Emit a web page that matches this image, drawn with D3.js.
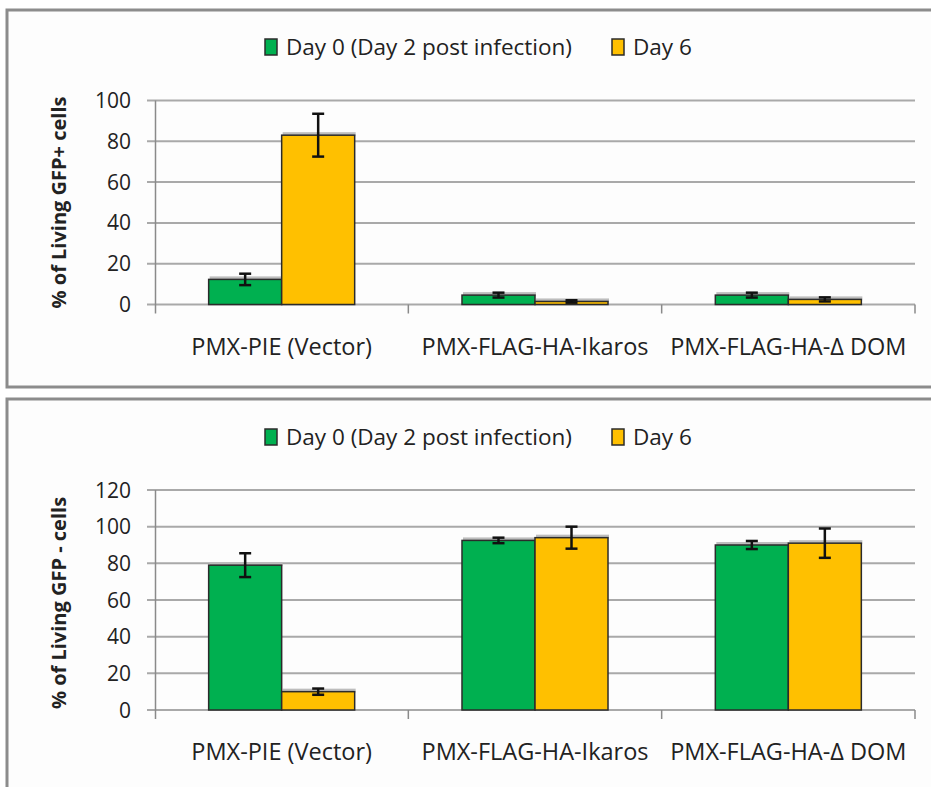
<!doctype html>
<html>
<head>
<meta charset="UTF-8">
<title>GFP cells</title>
<script src="https://d3js.org/d3.v7.min.js"></script>
<style>
  body { margin: 0; background: #fff; }
  text { font-family: "Open Sans", Lato, sans-serif; fill: #222; }
</style>
</head>
<body>
<svg id="chart" width="931" height="787"></svg>
<script>
// data
var categories = ["PMX-PIE (Vector)", "PMX-FLAG-HA-Ikaros", "PMX-FLAG-HA-\u0394 DOM"];
var seriesNames = ["Day 0 (Day 2 post infection)", "Day 6"];
var seriesColors = ["#00b050", "#ffc000"];

var posDay0 = [12.3, 4.6, 4.6];
var posDay0Err = [2.8, 1.2, 1.2];
var posDay6 = [83, 1.5, 2.5];
var posDay6Err = [10.5, 0.6, 1.0];

var negDay0 = [79, 92.5, 90];
var negDay0Err = [6.5, 1.5, 2.2];
var negDay6 = [10, 94, 91];
var negDay6Err = [1.7, 6, 8];

var posTicks = [0, 20, 40, 60, 80, 100];
var negTicks = [0, 20, 40, 60, 80, 100, 120];

var svg = d3.select("#chart");

function panel(o) {
  var g = svg.append("g");

  // frame
  g.append("rect")
    .attr("x", 7).attr("y", o.boxTop)
    .attr("width", 940).attr("height", o.boxH)
    .attr("fill", "#fdfdfd").attr("stroke", "#8c8c8c").attr("stroke-width", 3);

  var x = d3.scaleBand().domain(categories).range([155, 915]);
  var x1 = d3.scaleBand().domain(seriesNames).range([0, x.bandwidth()]).paddingOuter(0.735);
  var y = d3.scaleLinear().domain([0, d3.max(o.ticks)]).range([o.base, o.top]);

  // gridlines with outward ticks
  g.append("g").selectAll("line").data(o.ticks).join("line")
    .attr("x1", 147).attr("x2", 915)
    .attr("y1", function(d){ return y(d); }).attr("y2", function(d){ return y(d); })
    .attr("stroke", "#a9a9a9").attr("stroke-width", 2);

  g.append("g").selectAll("text").data(o.ticks).join("text")
    .attr("x", 131).attr("y", function(d){ return y(d); })
    .attr("dy", "0.36em").attr("text-anchor", "end")
    .style("font-size", "21px").text(function(d){ return d; });

  // y axis line
  g.append("line").attr("x1", 155.5).attr("x2", 155.5)
    .attr("y1", o.top).attr("y2", o.base + 9)
    .attr("stroke", "#8a8a8a").attr("stroke-width", 1.5);

  // category ticks
  var edges = categories.map(function(c){ return x(c) + x.bandwidth(); });
  g.append("g").selectAll("line").data(edges).join("line")
    .attr("x1", function(d){ return d; }).attr("x2", function(d){ return d; })
    .attr("y1", o.base).attr("y2", o.base + 9)
    .attr("stroke", "#8a8a8a").attr("stroke-width", 1.5);

  // bars
  var rows = [];
  categories.forEach(function(c, i){
    o.values.forEach(function(vals, s){
      rows.push({cat: c, s: s, v: vals[i], e: o.errs[s][i]});
    });
  });
  var bw = x1.bandwidth();

  // faint shadow above bar tops
  g.append("g").selectAll("rect").data(rows).join("rect")
    .attr("x", function(d){ return x(d.cat) + x1(seriesNames[d.s]) + 1; })
    .attr("y", function(d){ return y(d.v) - 3; })
    .attr("width", bw).attr("height", 4)
    .attr("fill", "#bdbdbd");

  g.append("g").selectAll("rect").data(rows).join("rect")
    .attr("x", function(d){ return x(d.cat) + x1(seriesNames[d.s]); })
    .attr("y", function(d){ return y(d.v); })
    .attr("width", bw)
    .attr("height", function(d){ return o.base - y(d.v); })
    .attr("fill", function(d){ return seriesColors[d.s]; })
    .attr("stroke", "#2b2b2b").attr("stroke-width", 1.5);

  // error bars
  var eb = g.append("g").attr("stroke", "#111").attr("stroke-width", 2.5);
  rows.forEach(function(d){
    var cx = x(d.cat) + x1(seriesNames[d.s]) + bw / 2;
    var y0 = y(d.v - d.e), y1 = y(d.v + d.e);
    eb.append("line").attr("x1", cx).attr("x2", cx).attr("y1", y0).attr("y2", y1);
    eb.append("line").attr("x1", cx - 6).attr("x2", cx + 6).attr("y1", y0).attr("y2", y0);
    eb.append("line").attr("x1", cx - 6).attr("x2", cx + 6).attr("y1", y1).attr("y2", y1);
  });

  // category labels
  g.append("g").selectAll("text").data(categories).join("text")
    .attr("x", function(d){ return x(d) + x.bandwidth() / 2; })
    .attr("y", o.base + 50).attr("text-anchor", "middle")
    .style("font-size", "23.5px").text(function(d){ return d; });

  // y title
  g.append("text")
    .attr("transform", "translate(66," + ((o.top + o.base) / 2 + o.titleShift) + ") rotate(-90)")
    .attr("text-anchor", "middle")
    .style("font-size", "20px").style("font-weight", "bold")
    .text(o.title);

  // legend
  var lg = g.append("g").attr("transform", "translate(0," + o.legendY + ")");
  var lx = [265, 612];
  seriesNames.forEach(function(s, i){
    lg.append("rect").attr("x", lx[i]).attr("y", -8).attr("width", 12).attr("height", 16)
      .attr("fill", seriesColors[i]).attr("stroke", "#2b2b2b").attr("stroke-width", 1.5);
    lg.append("text").attr("x", lx[i] + 21).attr("y", 0).attr("dy", "0.36em")
      .style("font-size", "22.5px").text(s);
  });
}

panel({
  boxTop: 10, boxH: 377, top: 100.5, base: 304.5, legendY: 47, titleShift: 0,
  ticks: posTicks, values: [posDay0, posDay6], errs: [posDay0Err, posDay6Err],
  title: "% of Living GFP+ cells"
});

panel({
  boxTop: 399, boxH: 420, top: 490, base: 710, legendY: 437, titleShift: 3,
  ticks: negTicks, values: [negDay0, negDay6], errs: [negDay0Err, negDay6Err],
  title: "% of Living GFP - cells"
});
</script>
</body>
</html>
